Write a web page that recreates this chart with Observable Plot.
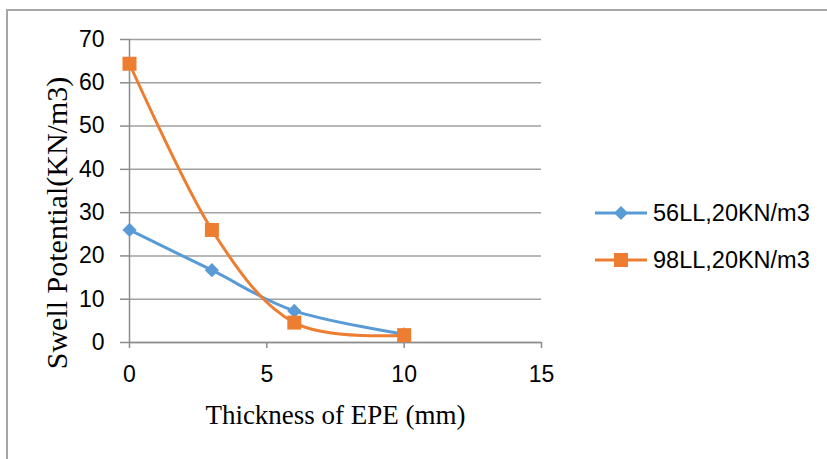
<!DOCTYPE html>
<html>
<head>
<meta charset="utf-8">
<script src="https://cdn.jsdelivr.net/npm/d3@7"></script>
<script src="https://cdn.jsdelivr.net/npm/@observablehq/plot@0.6"></script>
<style>
  html, body { margin: 0; padding: 0; background: #fff; }
  #wrap { position: relative; width: 827px; height: 459px; overflow: hidden; }
  #frame { position: absolute; left: 6px; top: 9px; width: 900px; height: 600px;
           border-top: 2px solid #a6a6a6; border-left: 2px solid #a6a6a6; box-sizing: border-box; }
  #chart { position: absolute; left: 0; top: 0; }
  #legend { position: absolute; left: 594px; top: 0; font-family: "Liberation Sans", Arial, sans-serif; font-size: 23.5px; color: #000; }
  .item { position: absolute; left: 0; display: flex; align-items: center; white-space: nowrap; height: 30px; }
  .item svg { margin-right: 5px; }
</style>
</head>
<body>
<div id="wrap">
  <div id="frame"></div>
  <div id="chart"></div>
  <div id="legend"></div>
</div>
<script>
// Data
const thickness = [0, 3, 6, 10];
const seriesNames = ["56LL,20KN/m3", "98LL,20KN/m3"];
const swell56 = [26.0, 16.7, 7.3, 1.9];
const swell98 = [64.4, 26.0, 4.6, 1.7];
const colors = ["#5B9BD5", "#ED7D31"];
const symbols = ["diamond2", "square"];
const xTicks = [0, 5, 10, 15];
const yTicks = [0, 10, 20, 30, 40, 50, 60, 70];
const xTitle = "Thickness of EPE (mm)";
const yTitle = "Swell Potential(KN/m3)";

const rows = [];
[swell56, swell98].forEach((vals, s) => {
  vals.forEach((v, i) => rows.push({series: seriesNames[s], x: thickness[i], y: v}));
});
const s0 = rows.filter(d => d.series === seriesNames[0]);
const s1 = rows.filter(d => d.series === seriesNames[1]);

const serif = "'Liberation Serif', 'Times New Roman', serif";

const chart = Plot.plot({
  width: 827,
  height: 459,
  marginLeft: 129,
  marginRight: 286,
  marginTop: 39,
  marginBottom: 117,
  style: {fontFamily: "'Liberation Sans', Arial, sans-serif", fontSize: "23px", background: "transparent", overflow: "visible"},
  x: {domain: [0, 15]},
  y: {domain: [0, 70]},
  marks: [
    Plot.gridY(yTicks, {stroke: "#a0a0a0", strokeOpacity: 1, strokeWidth: 1.5}),
    Plot.ruleX([0], {stroke: "#8c8c8c", strokeWidth: 1.5}),
    Plot.ruleY([0], {stroke: "#8c8c8c", strokeWidth: 1.5}),
    Plot.axisY(yTicks, {tickSize: 9, tickPadding: 16, fontSize: 23, stroke: "#8c8c8c", strokeWidth: 1.5, label: null, fill: "#000"}),
    Plot.axisX(xTicks, {tickSize: 6, tickPadding: 17, fontSize: 23, stroke: "#8c8c8c", strokeWidth: 1.5, label: null, fill: "#000"}),
    Plot.line(s0, {x: "x", y: "y", stroke: colors[0], strokeWidth: 3, curve: "cardinal"}),
    Plot.dot(s0, {x: "x", y: "y", symbol: symbols[0], r: 6.4, fill: colors[0], stroke: "none"}),
    Plot.line(s1, {x: "x", y: "y", stroke: colors[1], strokeWidth: 3, curve: "cardinal"}),
    Plot.dot(s1, {x: "x", y: "y", symbol: symbols[1], r: 7.9, fill: colors[1], stroke: "none"}),
    Plot.text([xTitle], {text: d => d, frameAnchor: "bottom", textAnchor: "middle", lineAnchor: "middle", dy: 73, fontSize: 27, fontFamily: serif, fill: "#000"}),
    Plot.text([yTitle], {text: d => d, frameAnchor: "left", textAnchor: "middle", lineAnchor: "middle", rotate: -90, dx: -72, dy: 32, fontSize: 30, fontFamily: serif, fill: "#000"})
  ]
});
document.getElementById("chart").appendChild(chart);

// Legend
const legend = document.getElementById("legend");
const legendY = [198, 245];
seriesNames.forEach((name, i) => {
  const item = document.createElement("div");
  item.className = "item";
  item.style.top = legendY[i] + "px";
  const sym = d3.symbol(i === 0 ? d3.symbolDiamond2 : d3.symbolSquare, i === 0 ? 125 : 196)();
  item.innerHTML = `<svg width="54" height="30"><line x1="1" x2="53" y1="15" y2="15" stroke="${colors[i]}" stroke-width="3"/><path d="${sym}" transform="translate(27,15)" fill="${colors[i]}"/></svg><span>${name}</span>`;
  legend.appendChild(item);
});
</script>
</body>
</html>
